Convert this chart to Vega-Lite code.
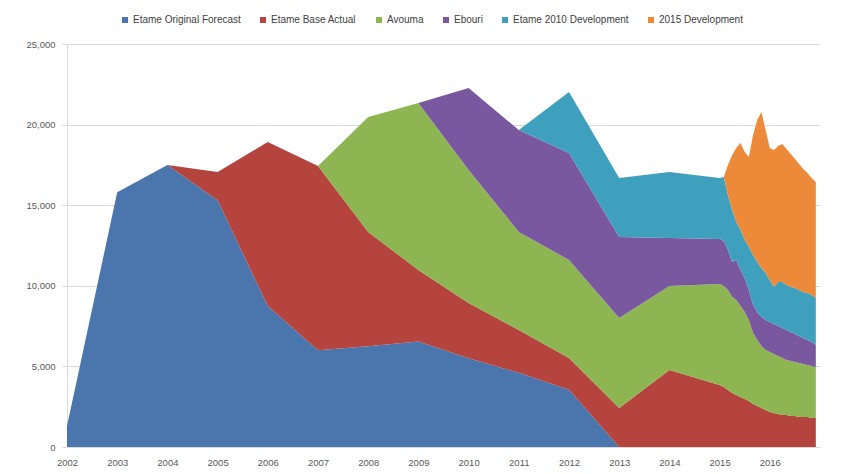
{
  "$schema": "https://vega.github.io/schema/vega-lite/v6.json",
  "autosize": {"type": "none"},
  "width": 753,
  "height": 403,
  "padding": {"left": 67, "top": 44, "right": 27, "bottom": 27},
  "background": "white",
  "config": {
    "view": {"stroke": null},
    "font": "Liberation Sans"
  },
  "datasets": {
    "seriesOrder": [
      {"series": "Etame Original Forecast", "rank": 1},
      {"series": "Etame Base Actual", "rank": 2},
      {"series": "Avouma", "rank": 3},
      {"series": "Ebouri", "rank": 4},
      {"series": "Etame 2010 Development", "rank": 5},
      {"series": "2015 Development", "rank": 6}
    ]
  },
  "data": {
    "values": [
      {"t": 2002, "Etame Original Forecast": 1300, "Etame Base Actual": 0, "Avouma": 0, "Ebouri": 0, "Etame 2010 Development": 0, "2015 Development": 0},
      {"t": 2003, "Etame Original Forecast": 15800, "Etame Base Actual": 0, "Avouma": 0, "Ebouri": 0, "Etame 2010 Development": 0, "2015 Development": 0},
      {"t": 2004, "Etame Original Forecast": 17500, "Etame Base Actual": 0, "Avouma": 0, "Ebouri": 0, "Etame 2010 Development": 0, "2015 Development": 0},
      {"t": 2005, "Etame Original Forecast": 15300, "Etame Base Actual": 1760, "Avouma": 0, "Ebouri": 0, "Etame 2010 Development": 0, "2015 Development": 0},
      {"t": 2006, "Etame Original Forecast": 8750, "Etame Base Actual": 10170, "Avouma": 0, "Ebouri": 0, "Etame 2010 Development": 0, "2015 Development": 0},
      {"t": 2007, "Etame Original Forecast": 6000, "Etame Base Actual": 11430, "Avouma": 0, "Ebouri": 0, "Etame 2010 Development": 0, "2015 Development": 0},
      {"t": 2008, "Etame Original Forecast": 6250, "Etame Base Actual": 7090, "Avouma": 7130, "Ebouri": 0, "Etame 2010 Development": 0, "2015 Development": 0},
      {"t": 2009, "Etame Original Forecast": 6550, "Etame Base Actual": 4430, "Avouma": 10360, "Ebouri": 0, "Etame 2010 Development": 0, "2015 Development": 0},
      {"t": 2010, "Etame Original Forecast": 5500, "Etame Base Actual": 3430, "Avouma": 8250, "Ebouri": 5090, "Etame 2010 Development": 0, "2015 Development": 0},
      {"t": 2011, "Etame Original Forecast": 4600, "Etame Base Actual": 2660, "Avouma": 6080, "Ebouri": 6320, "Etame 2010 Development": 0, "2015 Development": 0},
      {"t": 2012, "Etame Original Forecast": 3550, "Etame Base Actual": 1970, "Avouma": 6080, "Ebouri": 6640, "Etame 2010 Development": 3780, "2015 Development": 0},
      {"t": 2013, "Etame Original Forecast": 0, "Etame Base Actual": 2420, "Avouma": 5580, "Ebouri": 5030, "Etame 2010 Development": 3660, "2015 Development": 0},
      {"t": 2014, "Etame Original Forecast": 0, "Etame Base Actual": 4780, "Avouma": 5210, "Ebouri": 2970, "Etame 2010 Development": 4100, "2015 Development": 0},
      {"t": 2015.0, "Etame Original Forecast": 0, "Etame Base Actual": 3846, "Avouma": 6265, "Ebouri": 2791, "Etame 2010 Development": 3784, "2015 Development": 0},
      {"t": 2015.0833, "Etame Original Forecast": 0, "Etame Base Actual": 3722, "Avouma": 6265, "Ebouri": 2791, "Etame 2010 Development": 3970, "2015 Development": 0},
      {"t": 2015.1667, "Etame Original Forecast": 0, "Etame Base Actual": 3536, "Avouma": 6203, "Ebouri": 2481, "Etame 2010 Development": 3412, "2015 Development": 1860},
      {"t": 2015.25, "Etame Original Forecast": 0, "Etame Base Actual": 3350, "Avouma": 5955, "Ebouri": 2171, "Etame 2010 Development": 3225, "2015 Development": 3412},
      {"t": 2015.3333, "Etame Original Forecast": 0, "Etame Base Actual": 3226, "Avouma": 5892, "Ebouri": 2482, "Etame 2010 Development": 2357, "2015 Development": 4590},
      {"t": 2015.4167, "Etame Original Forecast": 0, "Etame Base Actual": 3102, "Avouma": 5644, "Ebouri": 2233, "Etame 2010 Development": 2482, "2015 Development": 5396},
      {"t": 2015.5, "Etame Original Forecast": 0, "Etame Base Actual": 2977, "Avouma": 5397, "Ebouri": 2109, "Etame 2010 Development": 2357, "2015 Development": 5459},
      {"t": 2015.5833, "Etame Original Forecast": 0, "Etame Base Actual": 2853, "Avouma": 5025, "Ebouri": 1861, "Etame 2010 Development": 2667, "2015 Development": 5583},
      {"t": 2015.6667, "Etame Original Forecast": 0, "Etame Base Actual": 2667, "Avouma": 4404, "Ebouri": 1737, "Etame 2010 Development": 3102, "2015 Development": 7443},
      {"t": 2015.75, "Etame Original Forecast": 0, "Etame Base Actual": 2543, "Avouma": 4094, "Ebouri": 1737, "Etame 2010 Development": 3102, "2015 Development": 8808},
      {"t": 2015.8333, "Etame Original Forecast": 0, "Etame Base Actual": 2419, "Avouma": 3846, "Ebouri": 1799, "Etame 2010 Development": 3039, "2015 Development": 9677},
      {"t": 2015.9167, "Etame Original Forecast": 0, "Etame Base Actual": 2295, "Avouma": 3722, "Ebouri": 1861, "Etame 2010 Development": 2915, "2015 Development": 8871},
      {"t": 2016.0, "Etame Original Forecast": 0, "Etame Base Actual": 2171, "Avouma": 3722, "Ebouri": 1861, "Etame 2010 Development": 2605, "2015 Development": 8188},
      {"t": 2016.0833, "Etame Original Forecast": 0, "Etame Base Actual": 2109, "Avouma": 3660, "Ebouri": 1861, "Etame 2010 Development": 2295, "2015 Development": 8498},
      {"t": 2016.1667, "Etame Original Forecast": 0, "Etame Base Actual": 2047, "Avouma": 3598, "Ebouri": 1861, "Etame 2010 Development": 2729, "2015 Development": 8436},
      {"t": 2016.25, "Etame Original Forecast": 0, "Etame Base Actual": 1985, "Avouma": 3536, "Ebouri": 1861, "Etame 2010 Development": 2853, "2015 Development": 8560},
      {"t": 2016.3333, "Etame Original Forecast": 0, "Etame Base Actual": 1985, "Avouma": 3412, "Ebouri": 1861, "Etame 2010 Development": 2791, "2015 Development": 8436},
      {"t": 2016.4167, "Etame Original Forecast": 0, "Etame Base Actual": 1923, "Avouma": 3412, "Ebouri": 1798, "Etame 2010 Development": 2792, "2015 Development": 8250},
      {"t": 2016.5, "Etame Original Forecast": 0, "Etame Base Actual": 1923, "Avouma": 3350, "Ebouri": 1736, "Etame 2010 Development": 2854, "2015 Development": 8002},
      {"t": 2016.5833, "Etame Original Forecast": 0, "Etame Base Actual": 1861, "Avouma": 3350, "Ebouri": 1674, "Etame 2010 Development": 2854, "2015 Development": 7815},
      {"t": 2016.6667, "Etame Original Forecast": 0, "Etame Base Actual": 1861, "Avouma": 3287, "Ebouri": 1613, "Etame 2010 Development": 2854, "2015 Development": 7629},
      {"t": 2016.75, "Etame Original Forecast": 0, "Etame Base Actual": 1861, "Avouma": 3225, "Ebouri": 1551, "Etame 2010 Development": 2916, "2015 Development": 7443},
      {"t": 2016.8333, "Etame Original Forecast": 0, "Etame Base Actual": 1799, "Avouma": 3225, "Ebouri": 1489, "Etame 2010 Development": 2916, "2015 Development": 7257},
      {"t": 2016.9167, "Etame Original Forecast": 0, "Etame Base Actual": 1799, "Avouma": 3163, "Ebouri": 1365, "Etame 2010 Development": 2915, "2015 Development": 7196}
    ]
  },
  "transform": [
    {"fold": ["Etame Original Forecast", "Etame Base Actual", "Avouma", "Ebouri", "Etame 2010 Development", "2015 Development"], "as": ["series", "value"]},
    {"lookup": "series", "from": {"data": {"name": "seriesOrder"}, "key": "series", "fields": ["rank"]}}
  ],
  "mark": {"type": "area", "interpolate": "linear", "opacity": 1},
  "encoding": {
    "x": {
      "field": "t", "type": "quantitative",
      "scale": {"domain": [2002, 2017], "nice": false, "zero": false},
      "axis": {
        "title": null, "values": [2002, 2003, 2004, 2005, 2006, 2007, 2008, 2009, 2010, 2011, 2012, 2013, 2014, 2015, 2016],
        "format": "d", "grid": false, "ticks": false, "domain": false,
        "labelFontSize": 9.5, "labelColor": "#595959", "labelPadding": 10, "labelFlush": false
      }
    },
    "y": {
      "field": "value", "type": "quantitative", "stack": "zero",
      "scale": {"domain": [0, 25000], "nice": false},
      "axis": {
        "title": null, "values": [0, 5000, 10000, 15000, 20000, 25000], "format": ",d",
        "grid": true, "gridColor": "#d9d9d9", "gridWidth": 1,
        "domain": true, "domainColor": "#d9d9d9",
        "ticks": true, "tickSize": 5, "tickColor": "#d9d9d9",
        "labelFontSize": 9.5, "labelColor": "#595959", "labelPadding": 7
      }
    },
    "order": {"field": "rank", "type": "quantitative", "sort": "ascending"},
    "color": {
      "field": "series", "type": "nominal",
      "scale": {
        "domain": ["Etame Original Forecast", "Etame Base Actual", "Avouma", "Ebouri", "Etame 2010 Development", "2015 Development"],
        "range": ["#4a76ad", "#b5443f", "#8db652", "#7a58a0", "#3fa0bd", "#ec8a3a"]
      },
      "legend": {
        "title": null, "orient": "none", "direction": "horizontal",
        "legendX": 53, "legendY": -29,
        "symbolType": "square", "symbolSize": 36, "symbolStrokeWidth": 0,
        "labelFontSize": 10, "labelColor": "#404040", "columnPadding": 17, "labelOffset": 3
      }
    }
  }
}
